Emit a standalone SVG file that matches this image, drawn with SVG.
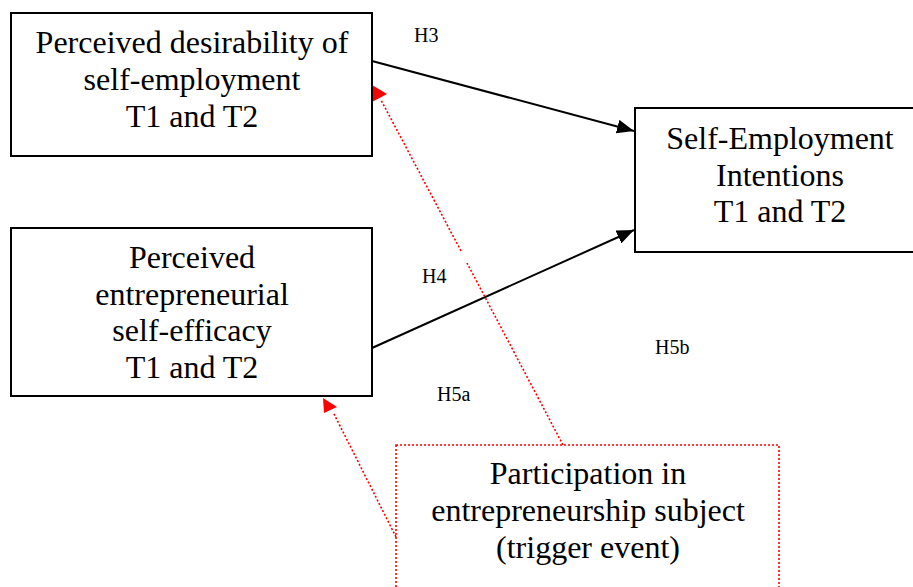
<svg xmlns="http://www.w3.org/2000/svg" width="913" height="587" viewBox="0 0 913 587">
<defs>
<style>
.box{fill:#fff;stroke:#000;stroke-width:2}
.dbox{fill:none;stroke:#ff0000;stroke-width:1.6;stroke-dasharray:2 2}
.t{font-family:"Liberation Serif","Times New Roman",serif;font-size:32px;fill:#000;text-anchor:middle}
.lbl{font-family:"Liberation Serif","Times New Roman",serif;font-size:20px;fill:#000}
.arr{stroke:#000;stroke-width:2;fill:none}
.red{stroke:#ff0000;stroke-width:1.6;stroke-dasharray:2 2;fill:none}
</style>
<marker id="ah" markerUnits="userSpaceOnUse" markerWidth="18" markerHeight="14" viewBox="0 0 18 14" refX="17" refY="7" orient="auto">
<path d="M0,0 L17,7 L0,14 Z" fill="#000"/>
</marker>
</defs>
<rect width="913" height="587" fill="#fff"/>
<g id="connectors">
<line class="arr" x1="372" y1="61" x2="634" y2="131" marker-end="url(#ah)"/>
<line class="arr" x1="372" y1="348" x2="634" y2="230" marker-end="url(#ah)"/>
<line class="red" x1="563" y1="445" x2="467" y2="263"/>
<line class="red" x1="461" y1="251" x2="381" y2="100"/>
<polygon points="372,85 387,94 372,102" fill="#ff0000"/>
<line class="red" x1="396" y1="537" x2="333" y2="412"/>
<polygon points="323,398 337,407 324,413" fill="#ff0000"/>
</g>
<g id="labels">
<text class="lbl" x="414" y="42">H3</text>
<text class="lbl" x="422" y="283">H4</text>
<text class="lbl" x="437" y="401">H5a</text>
<text class="lbl" x="655" y="354">H5b</text>
</g>
<g id="node-desirability">
<rect class="box" x="11" y="13" width="361" height="143"/>
<text class="t" x="192" y="53">Perceived desirability of</text>
<text class="t" x="192" y="90">self-employment</text>
<text class="t" x="192" y="127">T1 and T2</text>
</g>
<g id="node-efficacy">
<rect class="box" x="11" y="228" width="361" height="168"/>
<text class="t" x="192" y="268">Perceived</text>
<text class="t" x="192" y="305">entrepreneurial</text>
<text class="t" x="192" y="341">self-efficacy</text>
<text class="t" x="192" y="378">T1 and T2</text>
</g>
<g id="node-intentions">
<rect class="box" x="635" y="108" width="290" height="144"/>
<text class="t" x="780" y="149">Self-Employment</text>
<text class="t" x="780" y="186">Intentions</text>
<text class="t" x="780" y="222">T1 and T2</text>
</g>
<g id="node-trigger">
<rect class="dbox" x="396" y="445" width="383" height="160"/>
<text class="t" x="588" y="484">Participation in</text>
<text class="t" x="588" y="521">entrepreneurship subject</text>
<text class="t" x="588" y="558">(trigger event)</text>
</g>
</svg>
